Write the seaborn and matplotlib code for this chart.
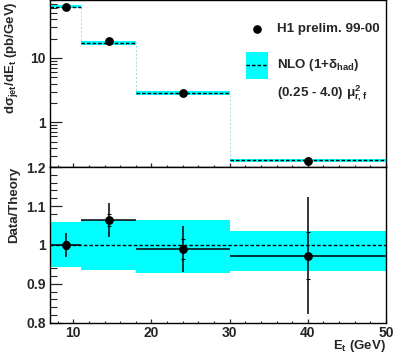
"""H1 inclusive jet cross section dσ/dEt with NLO comparison and data/theory ratio."""

import matplotlib

matplotlib.use("Agg")
import matplotlib.pyplot as plt
import numpy as np
import pandas as pd
import seaborn as sns
from matplotlib.patches import Rectangle
from matplotlib.ticker import FixedLocator, MultipleLocator, NullFormatter, FuncFormatter

# --- data ---
bin_edges = [7.0, 11.0, 18.0, 30.0, 50.0]
et_centres = [9.0, 14.5, 24.0, 40.0]
xsec_data = [63.0, 18.3, 2.84, 0.250]        # pb/GeV
xsec_nlo = [63.0, 17.2, 2.87, 0.257]         # pb/GeV
err_total = [0.030, 0.043, 0.058, 0.150]     # relative
err_stat = [0.010, 0.015, 0.025, 0.060]      # relative
band_up = [0.058, 0.063, 0.064, 0.036]       # relative scale uncertainty
band_down = [0.057, 0.063, 0.073, 0.066]

CYAN = "#00ffff"

sns.set_theme(style="ticks")
plt.rcParams["font.family"] = ["Liberation Sans", "DejaVu Sans"]
plt.rcParams["font.weight"] = "bold"
plt.rcParams["mathtext.fontset"] = "custom"
plt.rcParams["mathtext.rm"] = "Liberation Sans:bold"
plt.rcParams["mathtext.it"] = "Liberation Sans:bold"
plt.rcParams["mathtext.bf"] = "Liberation Sans:bold"
plt.rcParams["mathtext.sf"] = "Liberation Sans:bold"

df = pd.DataFrame({
    "et": et_centres,
    "data": xsec_data,
    "nlo": xsec_nlo,
    "ratio": np.array(xsec_data) / np.array(xsec_nlo),
})
edges = np.array(bin_edges)
lo_edges, hi_edges = edges[:-1], edges[1:]
up = np.array(band_up)
dn = np.array(band_down)

fig = plt.figure(figsize=(3.93, 3.54), dpi=100)
ax_top = fig.add_axes([0.127, 0.528, 0.855, 0.472])
ax_bot = fig.add_axes([0.127, 0.088, 0.855, 0.44])

# ---- upper panel ----
ax_top.step(edges, np.append(df["nlo"], df["nlo"].iloc[-1]), where="post",
            color="#9fdcdc", lw=0.7, ls=(0, (2, 2)), zorder=1)
for i in range(len(df)):
    xs = [lo_edges[i], hi_edges[i]]
    ax_top.fill_between(xs, df["nlo"][i] * (1 - dn[i]), df["nlo"][i] * (1 + up[i]),
                        color=CYAN, lw=0, zorder=2)
    ax_top.plot(xs, [df["nlo"][i]] * 2, color="black", lw=1.0, ls=(0, (2.5, 1.5)), zorder=3)
ax_top.errorbar(df["et"], df["data"], yerr=df["data"] * np.array(err_total),
                fmt="none", ecolor="black", elinewidth=1.0, zorder=4)
sns.scatterplot(data=df, x="et", y="data", ax=ax_top, color="black", s=40,
                edgecolor="black", linewidth=0, zorder=5, legend=False)

ax_top.set_yscale("log")
ax_top.set_xlim(bin_edges[0], bin_edges[-1])
ax_top.set_ylim(0.2, 80)
ax_top.yaxis.set_major_locator(FixedLocator([1, 10]))
ax_top.yaxis.set_major_formatter(FuncFormatter(lambda v, p: f"{v:g}"))
minor_vals = [m * d for d in (0.1, 1, 10) for m in range(2, 10)]
ax_top.yaxis.set_minor_locator(FixedLocator(minor_vals))
ax_top.yaxis.set_minor_formatter(NullFormatter())
ax_top.xaxis.set_major_locator(MultipleLocator(10))
ax_top.xaxis.set_minor_locator(MultipleLocator(2))
ax_top.tick_params(axis="x", which="both", labelbottom=False)
ax_top.set_xlabel("")
ax_top.set_ylabel(r"d$\sigma_{jet}$/dE$_{t}$ (pb/GeV)", fontsize=9.5, fontweight="bold", loc="top")
ax_top.yaxis.set_label_coords(-0.09, 0.99)

# legend drawn by hand, ROOT style
ax_top.plot([0.616], [0.826], "o", color="black", ms=5.2, transform=ax_top.transAxes)
ax_top.text(0.676, 0.826, "H1 prelim. 99-00", transform=ax_top.transAxes,
            fontsize=9.6, fontweight="bold", va="center", ha="left")
ax_top.add_patch(Rectangle((0.583, 0.527), 0.066, 0.162, transform=ax_top.transAxes,
                           facecolor=CYAN, edgecolor="none"))
ax_top.plot([0.583, 0.649], [0.608, 0.608], color="black", lw=1.0, ls=(0, (2.5, 1.5)),
            transform=ax_top.transAxes)
ax_top.text(0.676, 0.612, r"NLO (1+$\delta_{had}$)", transform=ax_top.transAxes,
            fontsize=9.6, fontweight="bold", va="center", ha="left")
ax_top.text(0.676, 0.44, r"(0.25 - 4.0) $\mu^{2}_{r,f}$", transform=ax_top.transAxes,
            fontsize=9.6, fontweight="bold", va="center", ha="left")

# ---- lower panel ----
for i in range(len(df)):
    ax_bot.fill_between([lo_edges[i], hi_edges[i]], 1 - dn[i], 1 + up[i],
                        color=CYAN, lw=0, zorder=1)
ax_bot.axhline(1.0, color="black", lw=1.0, ls=(0, (2.5, 1.5)), zorder=2)
ax_bot.errorbar(df["et"], df["ratio"], xerr=(hi_edges - lo_edges) / 2,
                yerr=np.array(err_total),
                fmt="none", ecolor="black", elinewidth=1.1, zorder=3)
ax_bot.errorbar(df["et"], df["ratio"], yerr=np.array(err_stat), fmt="none",
                ecolor="black", elinewidth=0, capsize=1.5, capthick=0.8, zorder=3)
sns.scatterplot(data=df, x="et", y="ratio", ax=ax_bot, color="black", s=40,
                edgecolor="black", linewidth=0, zorder=5, legend=False)

ax_bot.set_xlim(bin_edges[0], bin_edges[-1])
ax_bot.set_ylim(0.8, 1.2)
ax_bot.yaxis.set_major_locator(MultipleLocator(0.1))
ax_bot.yaxis.set_minor_locator(MultipleLocator(0.02))
ax_bot.yaxis.set_major_formatter(FuncFormatter(lambda v, p: f"{v:.2g}"))
ax_bot.xaxis.set_major_locator(MultipleLocator(10))
ax_bot.xaxis.set_minor_locator(MultipleLocator(2))
ax_bot.xaxis.set_major_formatter(FuncFormatter(lambda v, p: f"{v:g}"))
ax_bot.set_ylabel("Data/Theory", fontsize=9.5, fontweight="bold", loc="top")
ax_bot.yaxis.set_label_coords(-0.09, 1.0)
ax_bot.set_xlabel(r"E$_{t}$ (GeV)", fontsize=9.5, fontweight="bold", loc="right")
ax_bot.xaxis.set_label_coords(1.0, -0.095)

for ax in (ax_top, ax_bot):
    for side in ("top", "right", "left", "bottom"):
        ax.spines[side].set_visible(True)
        ax.spines[side].set_color("black")
        ax.spines[side].set_linewidth(1.0)
    ax.tick_params(axis="y", which="major", direction="in", length=8.5, width=0.9,
                   labelsize=10, pad=3, right=False)
    ax.tick_params(axis="y", which="minor", direction="in", length=5, width=0.8, right=False)
    ax.tick_params(axis="x", which="major", direction="in", length=3, width=0.9,
                   labelsize=10, pad=2, top=False)
    ax.tick_params(axis="x", which="minor", direction="in", length=1.8, width=0.8, top=False)
    for lab in ax.get_xticklabels() + ax.get_yticklabels():
        lab.set_fontweight("bold")

fig.savefig("out.png", dpi=100)
